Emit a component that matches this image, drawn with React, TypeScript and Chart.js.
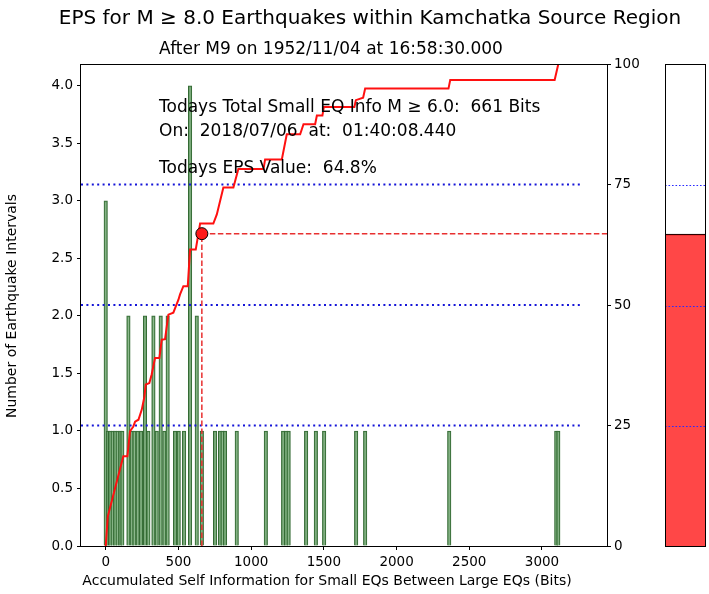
import React, { useEffect, useRef } from 'react';
import { Chart, registerables } from 'chart.js';

Chart.register(...registerables);

const FONT = "'DejaVu Sans', sans-serif";

// Histogram of earthquake intervals (bin centre in bits, count)
const histX = [0, 15, 30, 48, 65, 82, 100, 114, 156, 179, 197, 220, 243, 270, 293, 328, 351, 378, 403, 426, 477, 502, 539, 580, 626, 661, 752, 786, 803, 820, 901, 1101, 1220, 1240, 1258, 1378, 1445, 1502, 1722, 1784, 2362, 3098, 3112];
const histCount = [3, 1, 1, 1, 1, 1, 1, 1, 2, 1, 1, 1, 1, 2, 1, 2, 1, 2, 1, 2, 1, 1, 1, 4, 2, 1, 1, 1, 1, 1, 1, 1, 1, 1, 1, 1, 1, 1, 1, 1, 1, 1, 1];

// Cumulative EPS curve (bits, percent)
const epsX = [0, 14, 121, 149, 167, 190, 202, 225, 248, 266, 275, 300, 316, 339, 369, 385, 408, 420, 431, 465, 500, 511, 534, 564, 580, 619, 649, 740, 764, 809, 878, 912, 1085, 1096, 1211, 1245, 1337, 1360, 1440, 1452, 1490, 1500, 1710, 1720, 1770, 1784, 2357, 2369, 3087, 3120];
const epsPct = [0, 6.1, 18.6, 18.6, 23.8, 24.8, 25.8, 26.2, 28.3, 31.0, 33.5, 33.8, 35.6, 39.0, 39.0, 42.8, 42.9, 45.6, 48.0, 48.4, 51.1, 52.2, 53.9, 53.9, 61.5, 61.5, 66.9, 66.9, 68.8, 74.4, 74.4, 78.2, 78.2, 80.2, 80.2, 85.4, 85.4, 87.5, 87.5, 89.3, 89.3, 91.1, 91.1, 92.5, 93.0, 94.9, 94.9, 96.7, 96.7, 101];

const xTicks = [0, 500, 1000, 1500, 2000, 2500, 3000];
const yTicks = [0, 0.5, 1, 1.5, 2, 2.5, 3, 3.5, 4];
const y2Ticks = [0, 25, 50, 75, 100];
const refLevels = [25, 50, 75];
const refLineEnd = 3265;
const todayBits = 661;
const todayEps = 64.8;
const xMin = -170;
const xMax = 3447;
const yMax = 4.19;

const titleText = 'EPS for M \u2265 8.0 Earthquakes within Kamchatka Source Region';
const subtitleText = 'After M9 on 1952/11/04 at 16:58:30.000';
const infoLines = [
  'Todays Total Small EQ Info M \u2265 6.0:  661 Bits',
  'On:  2018/07/06  at:  01:40:08.440',
  'Todays EPS Value:  64.8%',
];
const xLabel = 'Accumulated Self Information for Small EQs Between Large EQs (Bits)';
const yLabel = 'Number of Earthquake Intervals';

const textPlugin = {
  id: 'textPlugin',
  afterDatasetsDraw(chart: any) {
    const { ctx, chartArea } = chart;
    ctx.save();
    ctx.strokeStyle = '#000';
    ctx.lineWidth = 1;
    ctx.strokeRect(Math.round(chartArea.left) - 0.5, Math.round(chartArea.top) + 0.5, Math.round(chartArea.right - chartArea.left) + 1, Math.round(chartArea.bottom - chartArea.top));
    ctx.fillStyle = '#000';
    ctx.textBaseline = 'alphabetic';
    ctx.textAlign = 'left';
    ctx.font = `17px ${FONT}`;
    ctx.fillText(infoLines[0], 159, 112);
    ctx.fillText(infoLines[1], 159, 136);
    ctx.fillText(infoLines[2], 159, 173);
    ctx.restore();
  },
  afterDraw(chart: any) {
    const { ctx } = chart;
    ctx.save();
    ctx.fillStyle = '#000';
    ctx.textAlign = 'center';
    ctx.textBaseline = 'alphabetic';
    ctx.font = `20px ${FONT}`;
    ctx.fillText(titleText, 370, 24);
    ctx.font = `17px ${FONT}`;
    ctx.fillText(subtitleText, 331, 54);
    ctx.font = `14px ${FONT}`;
    ctx.fillText(xLabel, 327, 585);
    ctx.textBaseline = 'middle';
    ctx.translate(12, 306);
    ctx.rotate(-Math.PI / 2);
    ctx.fillText(yLabel, 0, 0);
    ctx.restore();
  },
};

const gaugePlugin = {
  id: 'gaugePlugin',
  afterDatasetsDraw(chart: any) {
    const { ctx, scales, width, height } = chart;
    ctx.save();
    ctx.strokeStyle = '#2a2aff';
    ctx.lineWidth = 1.2;
    ctx.setLineDash([1.6, 1.9]);
    refLevels.forEach((lv) => {
      const y = Math.round(scales.y.getPixelForValue(lv)) + 0.5;
      ctx.beginPath();
      ctx.moveTo(0, y);
      ctx.lineTo(width, y);
      ctx.stroke();
    });
    ctx.setLineDash([]);
    ctx.strokeStyle = '#000';
    ctx.lineWidth = 1;
    ctx.strokeRect(0.5, 0.5, width - 1, height - 1);
    ctx.restore();
  },
};

function fixedTicks(values: number[]) {
  return (scale: any) => {
    scale.ticks = values.map((v) => ({ value: v }));
  };
}

export default function App() {
  const mainRef = useRef<HTMLCanvasElement>(null);
  const gaugeRef = useRef<HTMLCanvasElement>(null);

  useEffect(() => {
    const tickFont = { family: FONT, size: 13.5 };
    const axisGrid = { display: true, drawOnChartArea: false, drawTicks: true, tickLength: 4, tickColor: '#000', color: '#000' };
    const dashed = { borderColor: '#e83030', borderDash: [5.5, 2.5], borderWidth: 1.5, pointRadius: 0, yAxisID: 'y2', order: 2 };

    const main = new Chart(mainRef.current as HTMLCanvasElement, {
      type: 'bar',
      data: {
        datasets: [
          {
            type: 'line',
            label: 'Today',
            data: [{ x: todayBits, y: todayEps }],
            yAxisID: 'y2',
            showLine: false,
            pointRadius: 6,
            pointBackgroundColor: '#ff1a1a',
            pointBorderColor: '#000',
            pointBorderWidth: 1,
            order: 0,
          },
          {
            type: 'line',
            label: 'EPS',
            data: epsX.map((x, i) => ({ x, y: epsPct[i] })),
            yAxisID: 'y2',
            borderColor: '#ff1010',
            borderWidth: 2,
            pointRadius: 0,
            tension: 0,
            order: 1,
          },
          { type: 'line', label: 'h', data: [{ x: todayBits, y: todayEps }, { x: xMax, y: todayEps }], ...dashed },
          { type: 'line', label: 'v', data: [{ x: todayBits, y: 0 }, { x: todayBits, y: todayEps }], ...dashed },
          ...refLevels.map((lv) => ({
            type: 'line',
            label: 'ref' + lv,
            data: [{ x: xMin, y: lv }, { x: refLineEnd, y: lv }],
            yAxisID: 'y2',
            borderColor: '#1515d8',
            borderDash: [2, 3.4],
            borderWidth: 2,
            borderCapStyle: 'butt',
            pointRadius: 0,
            order: 3,
          })),
          {
            type: 'bar',
            label: 'Intervals',
            data: histX.map((x, i) => ({ x, y: histCount[i] })),
            yAxisID: 'y',
            backgroundColor: 'rgba(112,168,112,0.72)',
            borderColor: '#346a34',
            borderWidth: 1,
            barThickness: 3.5,
            order: 10,
          },
        ] as any,
      },
      options: {
        responsive: false,
        animation: false,
        devicePixelRatio: 1,
        layout: { padding: { top: 64, left: 0, right: 0, bottom: 0 } },
        plugins: { legend: { display: false }, tooltip: { enabled: false } },
        scales: {
          x: {
            type: 'linear',
            min: xMin,
            max: xMax,
            offset: false,
            afterBuildTicks: fixedTicks(xTicks),
            afterFit: (s: any) => { s.height = 48; },
            grid: { ...axisGrid, offset: false },
            border: { display: false },
            ticks: { font: tickFont, color: '#000', padding: 4, maxRotation: 0, autoSkip: false, callback: (v: any) => String(v) },
          },
          y: {
            type: 'linear',
            position: 'left',
            min: 0,
            max: yMax,
            afterBuildTicks: fixedTicks(yTicks),
            afterFit: (s: any) => { s.width = 81; },
            grid: axisGrid,
            border: { display: false },
            ticks: { font: tickFont, color: '#000', padding: 4, callback: (v: any) => Number(v).toFixed(1) },
          },
          y2: {
            type: 'linear',
            position: 'right',
            min: 0,
            max: 100,
            afterBuildTicks: fixedTicks(y2Ticks),
            afterFit: (s: any) => { s.width = 102; },
            grid: axisGrid,
            border: { display: false },
            ticks: { font: tickFont, color: '#000', padding: 3, callback: (v: any) => String(v) },
          },
        },
      } as any,
      plugins: [textPlugin],
    });

    const gauge = new Chart(gaugeRef.current as HTMLCanvasElement, {
      type: 'bar',
      data: {
        labels: ['EPS'],
        datasets: [
          {
            data: [todayEps],
            backgroundColor: 'rgba(255,0,0,0.72)',
            borderColor: '#000',
            borderWidth: { top: 1, left: 0, right: 0, bottom: 0 },
            barPercentage: 1,
            categoryPercentage: 1,
          },
        ],
      },
      options: {
        responsive: false,
        animation: false,
        devicePixelRatio: 1,
        layout: { padding: 0 },
        plugins: { legend: { display: false }, tooltip: { enabled: false } },
        scales: {
          x: { display: false, offset: true },
          y: { display: false, min: 0, max: 100 },
        },
      } as any,
      plugins: [gaugePlugin],
    });

    return () => {
      main.destroy();
      gauge.destroy();
    };
  }, []);

  return (
    <div style={{ position: 'absolute', left: 0, top: 0, width: 709, height: 594, background: '#fff' }}>
      <canvas ref={mainRef} width={709} height={594} style={{ position: 'absolute', left: 0, top: 0 }} />
      <canvas ref={gaugeRef} width={41} height={483} style={{ position: 'absolute', left: 665, top: 64 }} />
    </div>
  );
}
